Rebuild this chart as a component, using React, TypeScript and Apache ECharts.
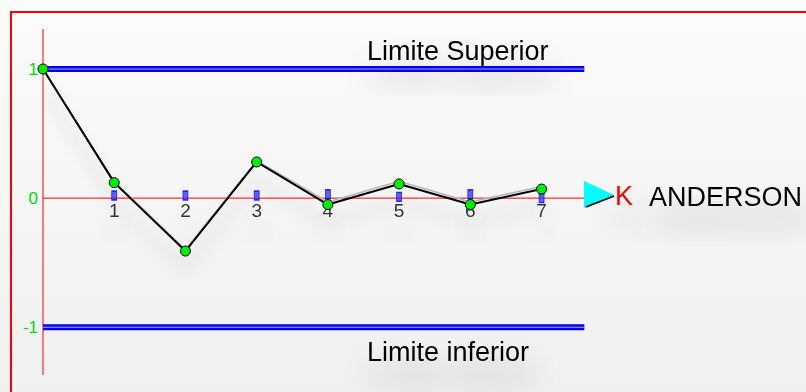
import React, { useEffect, useRef } from "react";
import * as echarts from "echarts";

const xCats = [0, 1, 2, 3, 4, 5, 6, 7];
const andersonValues = [1, 0.12, -0.41, 0.28, -0.05, 0.11, -0.05, 0.07];
const echoValues = [1, 0.13, -0.4, 0.29, -0.03, 0.13, -0.03, 0.09];
const markerValues = [null, 0.02, 0.02, 0.02, 0.03, 0.01, 0.03, 0.0];
const xTickLabels = [1, 2, 3, 4, 5, 6, 7];
const yTickLabels = [-1, 0, 1];
const xRange = [0, 7.61];
const yRange = [-1.37, 1.31];
const limitX = [0, 7.6];
const upperLimit = 1;
const lowerLimit = -1;

export default function App() {
  const ref = useRef<HTMLDivElement>(null);
  useEffect(() => {
    if (!ref.current) return;
    const chart = echarts.init(ref.current, undefined, { renderer: "svg" });
    const font = "'Liberation Sans', Arial, sans-serif";
    const shadowText = {
      textShadowColor: "rgba(0,0,0,0.3)",
      textShadowBlur: 28,
      textShadowOffsetX: 4,
      textShadowOffsetY: 22,
    };
    const limitSeries = (v: number) => [
      {
        type: "line",
        data: limitX.map((x) => [x, v]),
        symbol: "none",
        lineStyle: { color: "#0000ee", width: 6 },
        z: 2,
        silent: true,
      },
      {
        type: "line",
        data: limitX.map((x) => [x, v]),
        symbol: "none",
        lineStyle: { color: "#aab0ff", width: 1 },
        z: 2,
        silent: true,
      },
    ];
    chart.setOption({
      animation: false,
      backgroundColor: {
        type: "linear",
        x: 0,
        y: 0,
        x2: 0,
        y2: 1,
        colorStops: [
          { offset: 0, color: "#fbfbfb" },
          { offset: 1, color: "#f0f0f0" },
        ],
      },
      grid: { left: 43, top: 29, width: 542, height: 346, outerBoundsMode: "none", containLabel: false },
      xAxis: {
        type: "value",
        min: xRange[0],
        max: xRange[1],
        axisLine: { show: false },
        axisTick: { show: false },
        splitLine: { show: false },
        axisLabel: { show: false },
      },
      yAxis: {
        type: "value",
        min: yRange[0],
        max: yRange[1],
        axisLine: { show: false },
        axisTick: { show: false },
        splitLine: { show: false },
        axisLabel: {
          customValues: yTickLabels,
          color: "#00dd00",
          fontSize: 17,
          fontFamily: font,
          margin: 5,
        },
      },
      series: [
        {
          type: "line",
          data: xRange.map((x) => [x, 0]),
          symbol: "none",
          silent: true,
          lineStyle: { color: "#ff0000", width: 1 },
          z: 1,
        },
        {
          type: "line",
          data: yRange.map((y) => [0, y]),
          symbol: "none",
          silent: true,
          lineStyle: { color: "#ff0000", width: 1 },
          z: 1,
        },
        ...limitSeries(upperLimit),
        ...limitSeries(lowerLimit),
        {
          type: "scatter",
          data: xTickLabels.map((x) => [x, 0]),
          symbolSize: 0,
          silent: true,
          label: {
            show: true,
            position: "bottom",
            distance: 3,
            formatter: (p: any) => String(p.value[0]),
            color: "#000",
            fontSize: 19,
            fontFamily: font,
            ...shadowText,
          },
          z: 3,
        },
        {
          type: "line",
          data: xCats.map((x, i) => [x, echoValues[i]]),
          symbol: "none",
          lineStyle: { color: "#b8b8b8", width: 1.5 },
          z: 3,
        },
        {
          type: "scatter",
          data: xCats.map((x, i) => [x, markerValues[i]]).filter((d) => d[1] !== null),
          symbol: "rect",
          symbolSize: [5, 9],
          itemStyle: { color: "#3a3aff", borderColor: "#0000ff", borderWidth: 1 },
          z: 4,
        },
        {
          type: "line",
          data: xCats.map((x, i) => [x, andersonValues[i]]),
          symbol: "circle",
          symbolSize: 10,
          showSymbol: true,
          lineStyle: {
            color: "#000000",
            width: 2,
            shadowColor: "rgba(0,0,0,0.22)",
            shadowBlur: 16,
            shadowOffsetY: 18,
          },
          itemStyle: { color: "#00ee00", borderColor: "#000000", borderWidth: 1 },
          z: 5,
        },
      ],
      graphic: [
        {
          type: "rect",
          shape: { x: 11, y: 12, width: 820, height: 420 },
          style: { fill: "none", stroke: "#ff0000", lineWidth: 2 },
          silent: true,
          z: 10,
        },
        {
          type: "polygon",
          shape: { points: [[584, 181], [614, 195], [584, 208]] },
          style: { fill: "#00ffff" },
          z: 10,
        },
        {
          type: "line",
          shape: { x1: 586, y1: 207, x2: 614, y2: 196 },
          style: { stroke: "#000", lineWidth: 1.5 },
          z: 10,
        },
        {
          type: "text",
          x: 615,
          y: 209,
          style: {
            text: "K",
            fill: "#ff0000",
            font: `27px ${font}`,
            textVerticalAlign: "bottom",
            ...shadowText,
          },
          z: 10,
        },
        {
          type: "text",
          x: 649,
          y: 210,
          style: {
            text: "ANDERSON",
            fill: "#000",
            font: `27px ${font}`,
            textVerticalAlign: "bottom",
            ...shadowText,
          },
          z: 10,
        },
        {
          type: "text",
          x: 367,
          y: 64,
          style: {
            text: "Limite Superior",
            fill: "#000",
            font: `27px ${font}`,
            textVerticalAlign: "bottom",
            ...shadowText,
          },
          z: 10,
        },
        {
          type: "text",
          x: 367,
          y: 365,
          style: {
            text: "Limite inferior",
            fill: "#000",
            font: `27px ${font}`,
            textVerticalAlign: "bottom",
            ...shadowText,
          },
          z: 10,
        },
      ],
    });
    return () => chart.dispose();
  }, []);
  return (
    <div
      ref={ref}
      style={{ position: "absolute", left: 0, top: 0, width: 806, height: 392 }}
    />
  );
}
